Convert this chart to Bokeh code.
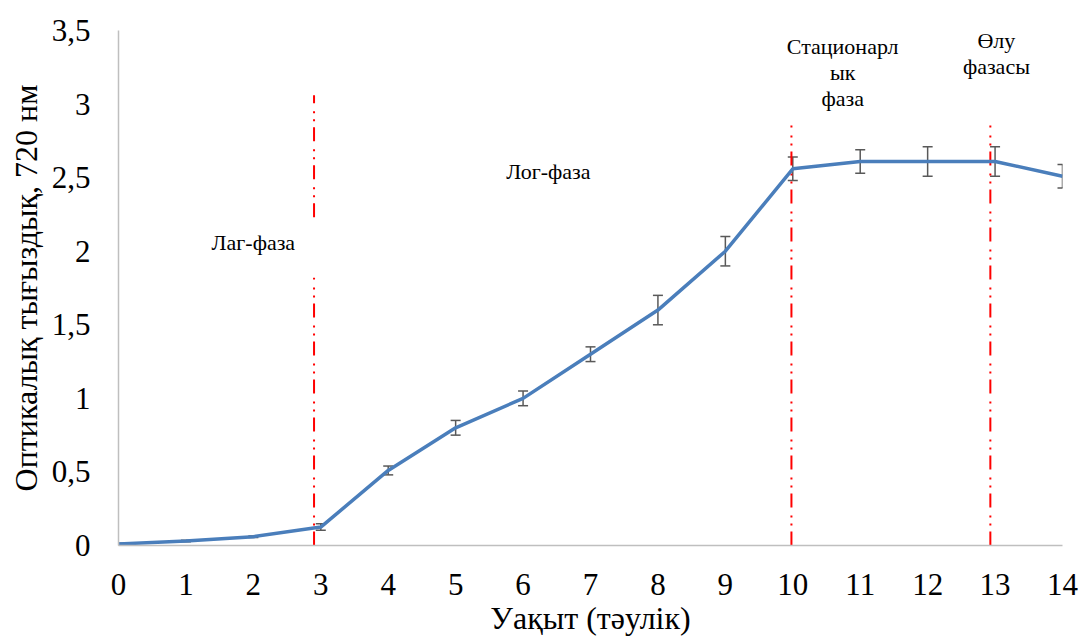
from bokeh.plotting import figure
from bokeh.models import ColumnDataSource, Whisker, TeeHead, FixedTicker, Range1d
from bokeh.core.properties import value
from bokeh.embed import file_html
from bokeh.resources import INLINE

# ---- data ----
days = [0, 1, 2, 3, 4, 5, 6, 7, 8, 9, 10, 11, 12, 13, 14]
od = [0.01, 0.03, 0.06, 0.125, 0.51, 0.80, 1.00, 1.30, 1.60, 2.00, 2.56, 2.61, 2.61, 2.61, 2.51]
err = [0.005, 0.005, 0.005, 0.022, 0.03, 0.05, 0.05, 0.05, 0.10, 0.10, 0.08, 0.08, 0.10, 0.10, 0.08]

y_ticks = [0, 0.5, 1, 1.5, 2, 2.5, 3, 3.5]
y_tick_labels = ["0", "0,5", "1", "1,5", "2", "2,5", "3", "3,5"]
x_ticks = list(range(0, 15))

x_title = "Уақыт (тәулік)"
y_title = "Оптикалық тығыздық, 720 нм"

# phase boundaries (dash-dot-dot red lines): x, y0, y1
bound_x = [2.9, 2.9, 9.98, 12.93]
bound_y0 = [0, 2.23, 0, 0]
bound_y1 = [1.82, 3.06, 2.855, 2.855]

# phase labels
phase_text = ["Лаг-фаза", "Лог-фаза", "Стационарл\nык\nфаза", "Өлу\nфазасы"]
phase_x = [2.0, 6.375, 10.74, 13.02]
phase_y = [2.06, 2.54, 3.215, 3.344]

FONT = "'Liberation Serif'"

p = figure(width=1082, height=644, x_range=Range1d(0, 14), y_range=Range1d(0, 3.5),
           output_backend="svg", toolbar_location=None,
           min_border_left=118, min_border_right=20, min_border_top=30, min_border_bottom=99)
p.outline_line_color = None
p.xgrid.visible = False
p.ygrid.visible = False
p.background_fill_color = "white"
p.border_fill_color = "white"

for ax in (p.xaxis[0], p.yaxis[0]):
    ax.axis_line_color = "#bfbfbf"
    ax.axis_line_width = 1.5
    ax.major_tick_line_color = None
    ax.minor_tick_line_color = None
    ax.major_label_text_font = FONT
    ax.major_label_text_font_size = "31px"
    ax.major_label_text_color = "black"
    ax.axis_label_text_font = FONT
    ax.axis_label_text_font_size = "32px"
    ax.axis_label_text_font_style = "normal"
    ax.axis_label_text_color = "black"

p.xaxis.ticker = FixedTicker(ticks=x_ticks)
p.yaxis.ticker = FixedTicker(ticks=y_ticks)
p.yaxis.major_label_overrides = {t: l for t, l in zip(y_ticks, y_tick_labels)}
p.xaxis.axis_label = x_title
p.yaxis.axis_label = y_title
p.xaxis.major_label_standoff = 22
p.xaxis.axis_label_standoff = 2
p.yaxis.major_label_standoff = 22
p.yaxis.axis_label_standoff = 5

# phase boundaries
bsrc = ColumnDataSource(dict(x=bound_x, y0=bound_y0, y1=bound_y1))
p.segment(x0="x", y0="y0", x1="x", y1="y1", source=bsrc, line_color="red",
          line_width=2, line_dash="14 6 2 6 2 8")

# main line
src = ColumnDataSource(dict(x=days, y=od,
                            upper=[v + e for v, e in zip(od, err)],
                            lower=[v - e for v, e in zip(od, err)]))
p.line("x", "y", source=src, line_color="#4a7ebb", line_width=3.5)

w = Whisker(base="x", upper="upper", lower="lower", source=src, dimension="height",
            line_color="#595959", line_width=1.5,
            upper_head=TeeHead(size=10, line_color="#595959", line_width=1.5),
            lower_head=TeeHead(size=10, line_color="#595959", line_width=1.5))
p.add_layout(w)

# phase labels
tsrc = ColumnDataSource(dict(x=phase_x, y=phase_y, t=phase_text))
p.text(x="x", y="y", text="t", source=tsrc, text_font=value(FONT),
       text_font_size="22px", text_align="center", text_baseline="middle",
       text_color="black", text_line_height=1.05)

open("out.html", "w").write(file_html(p, INLINE))
